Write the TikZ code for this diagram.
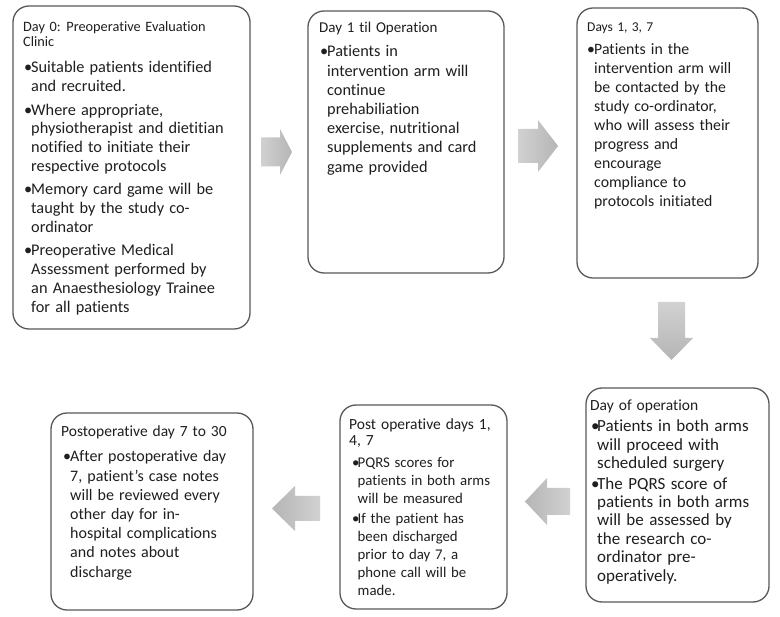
\documentclass[tikz,border=0pt]{standalone}
\usepackage{fontspec}
\setmainfont{Carlito}[Ligatures=NoCommon]
\newcommand{\tlist}[4]{\begin{minipage}[t]{250pt}\fontsize{#1}{#2}\selectfont\spaceskip=0.32em plus 0.1em minus 0.05em\raggedright\setlength{\parskip}{#3pt}#4\end{minipage}}
\newcommand{\itm}[2][7pt]{\par\hangindent=#1\hangafter=1\noindent\makebox[#1][l]{\textbullet}#2\par}
\begin{document}
\begin{tikzpicture}[x=1pt,y=-1pt,
  box/.style={draw=black!65, line width=1.3pt, rounded corners=16pt, fill=white, inner sep=0pt},
  txt/.style={anchor=base west, inner sep=0pt, text=black!88},
]
\useasboundingbox[fill=white] (0,0) rectangle (780,617);
\colorlet{alight}{gray!36}
\colorlet{adark}{gray!58}

% boxes
\node[box, minimum width=237pt, minimum height=323pt] (b1) at (131.5,167.5) {};
\node[box, minimum width=196pt, minimum height=262pt] (b2) at (406,142) {};
\node[box, minimum width=181pt, minimum height=270pt] (b3) at (667.5,143) {};
\node[box, minimum width=183pt, minimum height=214pt] (b4) at (677.5,495) {};
\node[box, minimum width=167pt, minimum height=204pt] (b5) at (423.5,507) {};
\node[box, minimum width=202pt, minimum height=197pt] (b6) at (152,511.5) {};

% block arrows between boxes
\shade[left color=alight, right color=adark] (261,137.5) -- (280,137.5) -- (280,129) -- (292,152) -- (280,175) -- (280,166.5) -- (261,166.5) -- cycle;
\shade[left color=alight, right color=adark] (518,129) -- (538,129) -- (538,120) -- (558,146) -- (538,172) -- (538,163) -- (518,163) -- cycle;
\shade[top color=alight, bottom color=adark] (658,302) -- (658,338) -- (650,338) -- (671.5,360) -- (693,338) -- (685,338) -- (685,302) -- cycle;
\shade[right color=alight, left color=adark] (570,488) -- (547,488) -- (547,478) -- (525,501.5) -- (547,525) -- (547,515) -- (570,515) -- cycle;
\shade[right color=alight, left color=adark] (320,496) -- (295,496) -- (295,486) -- (272,508.5) -- (295,531) -- (295,521) -- (320,521) -- cycle;

% box 1
\node[txt] (h1) at (23,32) {\tlist{14.3}{15}{0}{Day 0: Preoperative Evaluation\newline Clinic}};
\node[txt] (l1) at (24,73) {\tlist{16.3}{18.8}{4.5}{%
\itm{Suitable patients identified\newline and recruited.}
\itm{Where appropriate,\newline physiotherapist and dietitian\newline notified to initiate their\newline respective protocols}
\itm{Memory card game will be\newline taught by the study co-\newline ordinator}
\itm{Preoperative Medical\newline Assessment performed by\newline an Anaesthesiology Trainee\newline for all patients}}};

% box 2
\node[txt] (h2) at (319,33) {\tlist{15}{15}{0}{Day 1 til Operation}};
\node[txt] (l2) at (320,57) {\tlist{16.3}{19.2}{0}{%
\itm{Patients in\newline intervention arm will\newline continue\newline prehabiliation\newline exercise, nutritional\newline supplements and card\newline game provided}}};

% box 3
\node[txt] (h3) at (587,32) {\tlist{13.5}{15}{0}{Days 1, 3, 7}};
\node[txt] (l3) at (587,55) {\tlist{15.8}{19}{0}{%
\itm{Patients in the\newline intervention arm will\newline be contacted by the\newline study co-ordinator,\newline who will assess their\newline progress and\newline encourage\newline compliance to\newline protocols initiated}}};

% box 4
\node[txt] (h4) at (590,410.7) {\tlist{15.5}{15}{0}{Day of operation}};
\node[txt] (l4) at (591,432) {\tlist{17}{18.4}{2}{%
\itm[6pt]{Patients in both arms\newline will proceed with\newline scheduled surgery}
\itm[6pt]{The PQRS score of\newline patients in both arms\newline will be assessed by\newline the research co-\newline ordinator pre-\newline operatively.}}};

% box 5
\node[txt] (h5) at (349,430) {\tlist{15.5}{16}{0}{Post operative days 1,\newline 4, 7}};
\node[txt] (l5) at (352,468) {\tlist{14.8}{17.8}{2.5}{%
\itm[5.5pt]{PQRS scores for\newline patients in both arms\newline will be measured}
\itm[5.5pt]{If the patient has\newline been discharged\newline prior to day 7, a\newline phone call will be\newline made.}}};

% box 6
\node[txt] (h6) at (61,437) {\tlist{15.5}{15}{0}{Postoperative day 7 to 30}};
\node[txt] (l6) at (63,462) {\tlist{16}{19.2}{0}{%
\itm{After postoperative day\newline 7, patient's case notes\newline will be reviewed every\newline other day for in-\newline hospital complications\newline and notes about\newline discharge}}};
\end{tikzpicture}
\end{document}
